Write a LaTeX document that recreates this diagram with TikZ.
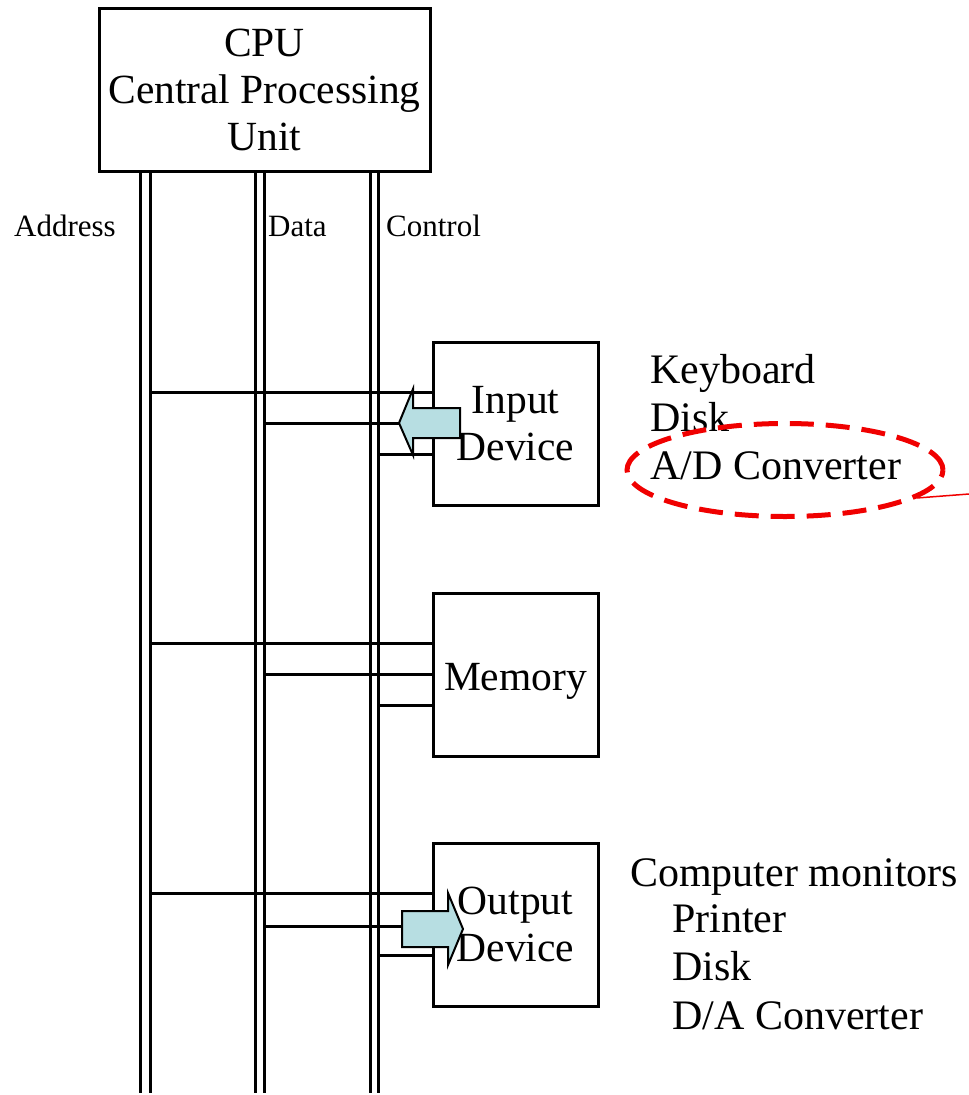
\documentclass[tikz,border=0pt]{standalone}
\usepackage{fontspec}
\setmainfont{Liberation Serif}
\usetikzlibrary{shapes.geometric}
\definecolor{arrowfill}{RGB}{183,222,226}
\definecolor{ovalred}{RGB}{240,0,0}
\begin{document}
\begin{tikzpicture}[x=1pt,y=-1pt,
  box/.style={draw, line width=3pt, inner sep=0pt, align=center,
    minimum width=165pt, minimum height=163pt, font=\fontsize{41.5}{47}\selectfont},
  busline/.style={line width=3pt},
  wire/.style={line width=3pt},
  buslabel/.style={anchor=base west, inner sep=0pt, font=\fontsize{31}{36}\selectfont},
  bigtext/.style={anchor=base west, inner sep=0pt, font=\fontsize{42}{48}\selectfont},
  fatarrow/.style={draw, line width=2pt, fill=arrowfill, line join=miter}]
\useasboundingbox (0,0) rectangle (969,1095);

% CPU
\node[box, minimum width=331pt] (cpu) at (264.5,89.5) {CPU\\Central Processing\\Unit};

% devices
\node[box] (in) at (515.5,423.5) {Input\\Device};
\node[box] (mem) at (515.5,674.5) {\raisebox{-7pt}[\height][\depth]{Memory}};
\node[box] (out) at (515.5,924.5) {Output\\Device};

% bus lines
\foreach \n/\x in {a1/140,a2/150,d1/255,d2/264,c1/370,c2/378}{
  \coordinate (\n top) at (\x,171);
  \coordinate (\n bot) at (\x,1093);
  \draw[busline] (\n top) -- (\n bot);
}

% bus labels
\node[buslabel] (laddr) at (14,236) {Address};
\node[buslabel] (ldata) at (268,236) {Data};
\node[buslabel] (lctrl) at (386,236) {Control};

% connections to input device
\coordinate (ia) at (150,392);
\coordinate (id) at (264,423);
\coordinate (ic) at (378,454);
\coordinate (itip) at (399,423);
\draw[wire] (ia) -- (ia -| in.west);
\draw[wire] (id) -- (itip);
\draw[wire] (ic) -- (ic -| in.west);
\draw[fatarrow] (460,408) -- (413,408) -- (413,389) -- (itip) -- (413,455) -- (413,438) -- (460,438) -- cycle;

% connections to memory
\coordinate (ma) at (150,643);
\coordinate (md) at (264,674);
\coordinate (mc) at (378,705);
\draw[wire] (ma) -- (ma -| mem.west);
\draw[wire] (md) -- (md -| mem.west);
\draw[wire] (mc) -- (mc -| mem.west);

% connections to output device
\coordinate (oa) at (150,893);
\coordinate (od) at (264,926);
\coordinate (oc) at (378,955);
\coordinate (otail) at (402,926);
\draw[wire] (oa) -- (oa -| out.west);
\draw[wire] (od) -- (otail);
\draw[wire] (oc) -- (oc -| out.west);
\draw[fatarrow] (402,911) -- (448,911) -- (448,893) -- (463,929) -- (448,965) -- (448,947) -- (402,947) -- cycle;

% input examples
\node[bigtext] (kb) at (650,383) {Keyboard};
\node[bigtext] (dk) at (650,431) {Disk};
\node[bigtext] (adc) at (650,479) {A/D Converter};

% highlight oval
\node[ellipse, draw=ovalred, line width=5pt, dash pattern=on 24pt off 12pt,
  minimum width=316pt, minimum height=93pt, inner sep=0pt] (oval) at (785,470) {};
\coordinate (ovalout) at (969,494);
\draw[ovalred, line width=1.5pt] (oval.-12) -- (ovalout);

% output examples
\node[bigtext] (cm) at (630,886) {Computer monitors};
\node[bigtext] (pr) at (672,932) {Printer};
\node[bigtext] (dk2) at (672,980) {Disk};
\node[bigtext] (dac) at (672,1029) {D/A Converter};
\end{tikzpicture}
\end{document}
